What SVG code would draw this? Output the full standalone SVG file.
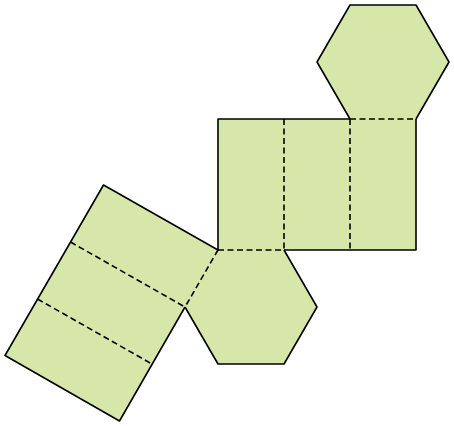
<svg xmlns="http://www.w3.org/2000/svg" width="454" height="426" viewBox="0 0 454 426">
<style>
.f{fill:#d6e7a9;stroke:none}
.s{fill:none;stroke:#000;stroke-width:1.6;stroke-linejoin:round}
.d{fill:none;stroke:#000;stroke-width:1.6;stroke-dasharray:6 3.5}
</style>
<g id="hexagon-top"><polygon class="f" points="350,5 416,5 449,62 416,119 350,119 317,62"/><path class="s" d="M350,119L317,62L350,5H416L449,62L416,119"/></g>
<g id="rect-right"><rect class="f" x="218" y="119" width="198" height="131"/><path class="s" d="M218,250V119H350M416,119V250H284"/></g>
<g id="hexagon-bottom"><polygon class="f" points="218,250 284,250 317,307 284,364 218,364 185,307"/><path class="s" d="M284,250L317,307L284,364H218L185,307"/></g>
<g id="rect-left"><polygon class="f" points="103.5,185 218,250 119.5,421 5,355.5"/><path class="s" d="M218,250L103.5,185L5,355.5L119.5,421L185,307"/></g>
<g id="connectors">
<path class="d" d="M284,119V250M350,119V250M350,119H416M218,250H284M218,250L185,307M70.5,242L185,307M37.5,299L152,364"/>
</g>
</svg>
